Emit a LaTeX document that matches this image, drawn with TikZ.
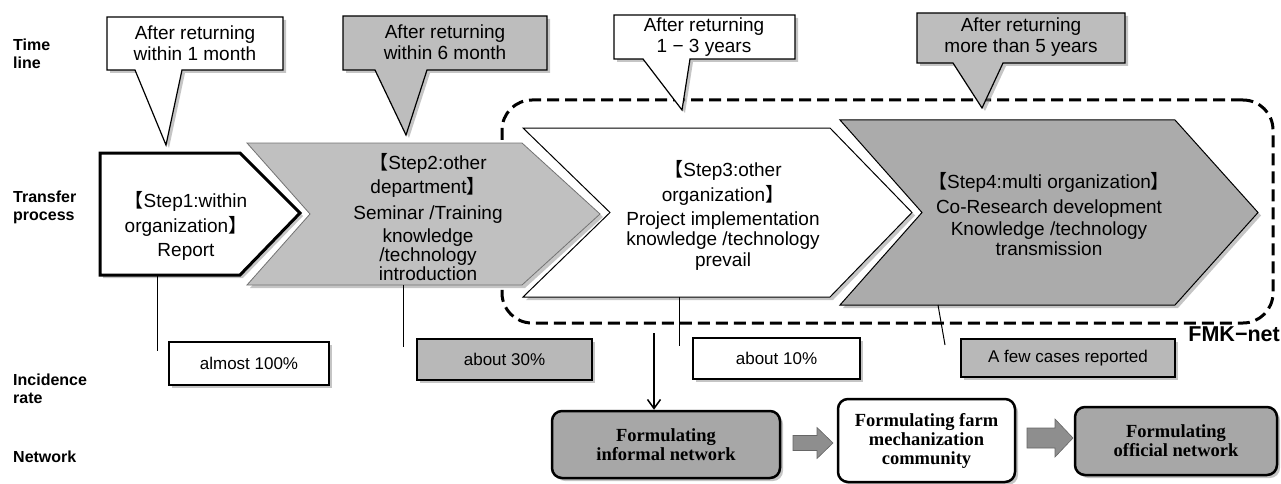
\documentclass[tikz,border=0pt]{standalone}
\usepackage{fontspec}
\setmainfont{Liberation Sans}
\newfontfamily\cjk{Noto Sans CJK JP}
\newfontfamily\netserif{Liberation Serif}
\usetikzlibrary{shadows,arrows.meta}

\definecolor{calloutgray}{HTML}{BDBDBD}
\definecolor{stepgray}{HTML}{C0C0C0}
\definecolor{stepdark}{HTML}{ABABAB}
\definecolor{ratebox}{HTML}{B8B8B8}
\definecolor{netgray}{HTML}{A7A7A7}
\definecolor{arrowgray}{HTML}{8E8E8E}

\newcommand{\lb}{{\cjk 【}}
\newcommand{\rb}{{\cjk 】}}

\tikzset{
  softshadow/.style={drop shadow={shadow xshift=3pt,shadow yshift=-3pt,fill=black!45,opacity=.5}},
  rowlabel/.style={font=\bfseries\fontsize{16}{18}\selectfont,align=left,anchor=west,inner sep=0pt},
  callout/.style={draw=black,line width=1.2pt,line join=miter,softshadow},
  callouttext/.style={font=\fontsize{19}{20.5}\selectfont,align=center,inner sep=0pt},
  chevwhite/.style={draw=black,line width=1pt,fill=white,line join=miter,softshadow},
  chevthick/.style={draw=black,line width=3pt,fill=white,line join=miter},
  steptext/.style={font=\fontsize{19}{20.5}\selectfont,align=center,inner sep=0pt},
  ratestyle/.style={draw=black,line width=1.1pt,softshadow,font=\fontsize{17}{19}\selectfont,inner sep=0pt},
  tickline/.style={draw=black,line width=1pt},
  fmkbox/.style={draw=black,line width=3pt,dash pattern=on 12pt off 6pt,rounded corners=30pt,inner sep=0pt},
  netbox/.style={draw=black,line width=2.5pt,rounded corners=10pt,softshadow,
    font=\netserif\bfseries\fontsize{18.5}{19}\selectfont,align=center,inner sep=0pt},
  blockarrow/.style={fill=arrowgray,draw=black!60,line width=.6pt,line join=miter},
}

\begin{document}
\begin{tikzpicture}[x=1pt,y=-1pt]
\useasboundingbox (0,0) rectangle (1281,484);

% row labels on the left
\node[rowlabel] (lbltime) at (13,54) {Time\\line};
\node[rowlabel] (lblproc) at (13,207.5) {Transfer\\process};
\node[rowlabel] (lblrate) at (13,389) {Incidence\\rate};
\node[rowlabel] (lblnet) at (13,457) {Network};

% dashed FMK-net region
\node[fmkbox,minimum width=771pt,minimum height=223pt] (fmk) at (887.5,211.5) {};
\node[font=\bfseries\fontsize{21.5}{24}\selectfont,anchor=east,inner sep=0pt] (fmklabel) at (1280,334) {FMK−net};

% step 1
\path[softshadow,fill=white] (100,153) -- (240,153) -- (300,213) -- (240,275) -- (100,275) -- cycle;
\draw[chevthick] (100,153) -- (240,153) -- (300,213) -- (240,275) -- (100,275) -- cycle;
\node[steptext,font=\fontsize{19}{24.5}\selectfont] (s1) at (186,226) {\lb Step1:within\\organization\rb\\Report};

% step 2
\draw[draw=black!55,line width=.8pt,fill=stepgray,line join=miter,softshadow]
  (247,143) -- (522,143) -- (600,214) -- (522,285) -- (247,285) -- (310,214) -- cycle;
\node[steptext,font=\fontsize{19}{19}\selectfont] (s2) at (428,217)
  {\lb Step2:other\\[3pt]department\rb\\[7pt]Seminar /Training\\[4pt]knowledge\\/technology\\introduction};

% step 3
\draw[chevwhite] (523,128) -- (830,128) -- (912,212.5) -- (830,297) -- (523,297) -- (610,212.5) -- cycle;
\node[steptext] (s3) at (723,215)
  {\lb Step3:other\\[5pt]organization\rb\\[3pt]Project implementation\\knowledge /technology\\prevail};

% step 4
\draw[chevwhite,fill=stepdark] (840,120) -- (1175,120) -- (1258,212.5) -- (1175,305) -- (840,305) -- (922,212.5) -- cycle;
\node[steptext] (s4) at (1049,214)
  {\lb Step4:multi organization\rb\\[5pt]Co-Research development\\[1pt]Knowledge /technology\\transmission};

% time line callouts
\draw[callout,fill=white] (107,17) -- (283,17) -- (283,70) -- (182,70) -- (166,145) -- (135,70) -- (107,70) -- cycle;
\node[callouttext] (c1) at (195,43) {After returning\\within 1 month};
\draw[callout,fill=calloutgray] (343,16) -- (547,16) -- (547,70) -- (427,70) -- (406,135) -- (375,70) -- (343,70) -- cycle;
\node[callouttext] (c2) at (445,42) {After returning\\within 6 month};
\draw[callout,fill=white] (614,15) -- (795,15) -- (795,59) -- (690,59) -- (682,110) -- (643,59) -- (614,59) -- cycle;
\node[callouttext] (c3) at (704,37) {After returning\\1 − 3 years};
\draw[callout,fill=calloutgray] (917,13) -- (1125,13) -- (1125,63) -- (1003,63) -- (982,108) -- (953,63) -- (917,63) -- cycle;
\node[callouttext] (c4) at (1021,37) {After returning\\more than 5 years};

% incidence rates
\node[ratestyle,fill=white,minimum width=160pt,minimum height=43pt] (r1) at (249,363.5) {almost 100\%};
\node[ratestyle,fill=ratebox,minimum width=175pt,minimum height=41pt] (r2) at (504.5,359.5) {about 30\%};
\node[ratestyle,fill=white,minimum width=167pt,minimum height=41pt] (r3) at (776.5,358.5) {about 10\%};
\node[ratestyle,fill=ratebox,minimum width=214pt,minimum height=38pt] (r4) at (1068,358) {A few cases reported};

% ticks from each step down to its rate
\coordinate (t1a) at (157,275); \coordinate (t1b) at (157,351);
\coordinate (t2a) at (403,285); \coordinate (t2b) at (403,347);
\coordinate (t3a) at (679,297); \coordinate (t3b) at (679,346);
\coordinate (t4a) at (938,305); \coordinate (t4b) at (945,345);
\draw[tickline] (t1a) -- (t1b);
\draw[tickline] (t2a) -- (t2b);
\draw[tickline] (t3a) -- (t3b);
\draw[tickline] (t4a) -- (t4b);

% network row
\node[netbox,fill=netgray,minimum width=228pt,minimum height=67pt] (n1) at (666,444.5) {Formulating\\informal network};
\node[netbox,fill=white,minimum width=177pt,minimum height=83pt] (n2) at (926.5,440.5) {Formulating farm\\mechanization\\community};
\node[netbox,fill=netgray,minimum width=202pt,minimum height=68pt] (n3) at (1176,441) {Formulating\\official network};

\coordinate (dstart) at (654,333);
\draw[line width=1.5pt,-{Straight Barb[length=9pt,width=13pt,line width=1.5pt]}] (dstart) -- (dstart |- n1.north);

\draw[blockarrow] (793,435.5) -- (817,435.5) -- (817,427.5) -- (833,443) -- (817,458.5) -- (817,450.5) -- (793,450.5) -- cycle;
\draw[blockarrow] (1027,428) -- (1055,428) -- (1055,419) -- (1073,438) -- (1055,457) -- (1055,448) -- (1027,448) -- cycle;
\end{tikzpicture}
\end{document}
